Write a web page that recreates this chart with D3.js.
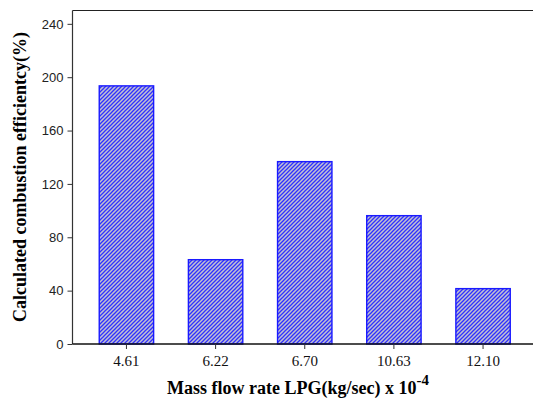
<!DOCTYPE html>
<html>
<head>
<meta charset="utf-8">
<script src="https://cdn.jsdelivr.net/npm/d3@7"></script>
<style>
  body { margin: 0; background: #fff; }
  svg { display: block; }
</style>
</head>
<body>
<div id="chart"></div>
<script>
const categories = ['4.61', '6.22', '6.70', '10.63', '12.10'];
const efficiency = [193.5, 63.2, 136.7, 96.2, 41.5];
const yTicks = [0, 40, 80, 120, 160, 200, 240];

const width = 533, height = 398;
const margin = {top: 10.5, right: -4, bottom: 54, left: 72.5};
const plotBottom = height - margin.bottom;

const svg = d3.select('#chart')
  .append('svg')
    .attr('width', width)
    .attr('height', height);

// hatch fill
const pat = svg.append('defs').append('pattern')
  .attr('id', 'hatch')
  .attr('patternUnits', 'userSpaceOnUse')
  .attr('width', 4)
  .attr('height', 4);
pat.append('rect')
  .attr('width', 4).attr('height', 4)
  .attr('fill', '#c2c2d2');
pat.append('path')
  .attr('d', 'M-1,1 l2,-2 M0,4 l4,-4 M3,5 l2,-2')
  .attr('stroke', '#3030ff')
  .attr('stroke-width', 1.3);

const x = d3.scaleBand()
  .domain(categories)
  .range([margin.left, width - margin.right])
  .paddingInner(0.39)
  .paddingOuter(0.3);

const y = d3.scaleLinear()
  .domain([0, 250])
  .range([plotBottom, margin.top]);

// frame top line
svg.append('line')
  .attr('x1', margin.left).attr('x2', width)
  .attr('y1', margin.top).attr('y2', margin.top)
  .attr('stroke', '#222').attr('stroke-width', 1.2);

// bars
svg.append('g')
  .selectAll('rect')
  .data(efficiency)
  .join('rect')
    .attr('x', (d, i) => x(categories[i]))
    .attr('y', d => y(d))
    .attr('width', x.bandwidth())
    .attr('height', d => y(0) - y(d))
    .attr('fill', 'url(#hatch)')
    .attr('stroke', '#1a1aff')
    .attr('stroke-width', 1.4);

// y axis
const yAxis = svg.append('g')
  .attr('transform', `translate(${margin.left},0)`)
  .call(d3.axisLeft(y).tickValues(yTicks).tickSize(5).tickPadding(4).tickSizeOuter(0));
yAxis.select('.domain').attr('stroke', '#333').attr('stroke-width', 1.2);
yAxis.selectAll('.tick line').attr('stroke', '#333');
yAxis.selectAll('.tick text')
  .attr('font-family', 'Liberation Sans, Arial, sans-serif')
  .attr('font-size', 13)
  .attr('fill', '#222');
yAxis.select('.domain').attr('d', `M0,${plotBottom}V${margin.top}`);

// x axis
const xAxis = svg.append('g')
  .attr('transform', `translate(0,${plotBottom})`)
  .call(d3.axisBottom(x).tickSize(5).tickPadding(6).tickSizeOuter(0));
xAxis.select('.domain').attr('d', `M${margin.left},0H${width}`)
  .attr('stroke', '#111').attr('stroke-width', 1.6);
xAxis.selectAll('.tick line').attr('stroke', '#333');
xAxis.selectAll('.tick text')
  .attr('font-family', 'Liberation Serif, Times New Roman, serif')
  .attr('font-size', 15)
  .attr('fill', '#111');

// axis titles
const xTitle = svg.append('text')
  .attr('x', 298)
  .attr('y', 394)
  .attr('text-anchor', 'middle')
  .attr('font-family', 'Liberation Serif, Times New Roman, serif')
  .attr('font-weight', 'bold')
  .attr('font-size', 18)
  .attr('fill', '#000');
xTitle.append('tspan').text('Mass flow rate LPG(kg/sec) x 10');
xTitle.append('tspan')
  .attr('dy', -9)
  .attr('font-size', 15)
  .text('-4');

svg.append('text')
  .attr('transform', `translate(26,177) rotate(-90)`)
  .attr('text-anchor', 'middle')
  .attr('font-family', 'Liberation Serif, Times New Roman, serif')
  .attr('font-weight', 'bold')
  .attr('font-size', 18)
  .attr('fill', '#000')
  .text('Calculated combustion efficientcy(%)');
</script>
</body>
</html>
